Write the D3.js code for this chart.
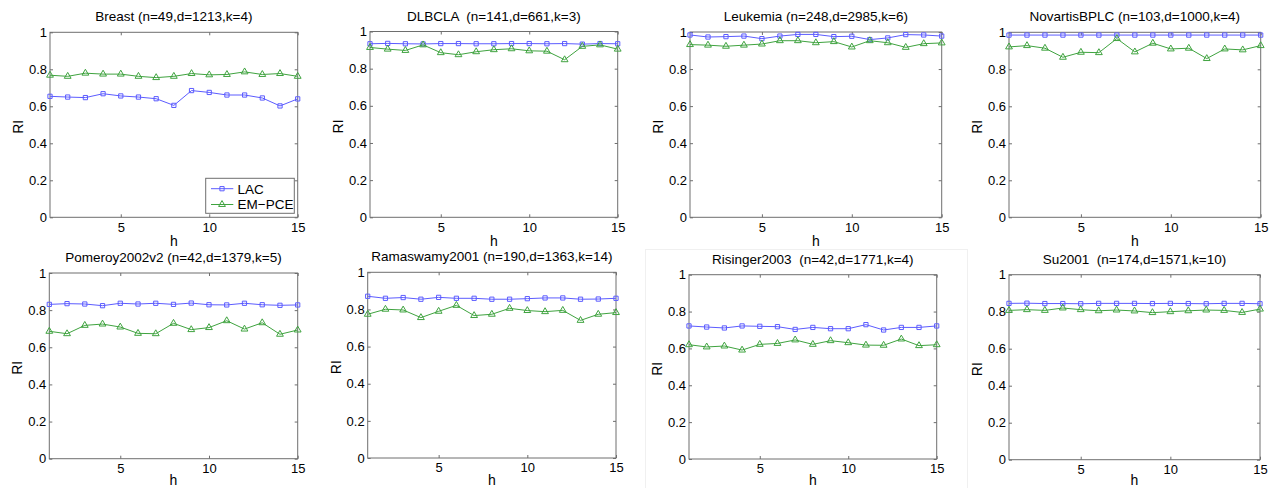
<!DOCTYPE html>
<html>
<head>
<meta charset="utf-8">
<script src="https://cdn.jsdelivr.net/npm/d3@7"></script>
<style>
  html, body { margin: 0; padding: 0; background: #fff; }
  svg { display: block; }
  text { font-family: "Liberation Sans", Arial, Helvetica, sans-serif; fill: #000; }
</style>
</head>
<body>
<svg id="chart" width="1279" height="488"></svg>
<script>
// Rand index (RI) of LAC and EM-PCE over h = 1..15 for eight gene-expression datasets
const hValues = [1, 2, 3, 4, 5, 6, 7, 8, 9, 10, 11, 12, 13, 14, 15];
const xTicks = [5, 10, 15];
const yTicks = [0, 0.2, 0.4, 0.6, 0.8, 1];
const seriesNames = ["LAC", "EM\u2212PCE"];

const titles = [
  "Breast (n=49,d=1213,k=4)",
  "DLBCLA  (n=141,d=661,k=3)",
  "Leukemia (n=248,d=2985,k=6)",
  "NovartisBPLC (n=103,d=1000,k=4)",
  "Pomeroy2002v2 (n=42,d=1379,k=5)",
  "Ramaswamy2001 (n=190,d=1363,k=14)",
  "Risinger2003  (n=42,d=1771,k=4)",
  "Su2001  (n=174,d=1571,k=10)"
];

const lacValues = [
  [0.654, 0.650, 0.647, 0.668, 0.656, 0.650, 0.641, 0.605, 0.685, 0.675, 0.661, 0.661, 0.645, 0.602, 0.640],
  [0.934, 0.936, 0.934, 0.933, 0.935, 0.935, 0.934, 0.934, 0.935, 0.935, 0.934, 0.935, 0.932, 0.935, 0.934],
  [0.984, 0.973, 0.975, 0.978, 0.964, 0.978, 0.987, 0.987, 0.975, 0.977, 0.959, 0.968, 0.986, 0.984, 0.978],
  [0.985, 0.985, 0.985, 0.985, 0.985, 0.985, 0.985, 0.985, 0.985, 0.985, 0.985, 0.985, 0.985, 0.985, 0.985],
  [0.831, 0.835, 0.833, 0.824, 0.837, 0.833, 0.837, 0.831, 0.838, 0.829, 0.828, 0.837, 0.829, 0.826, 0.828],
  [0.871, 0.860, 0.864, 0.855, 0.865, 0.860, 0.860, 0.855, 0.855, 0.858, 0.862, 0.862, 0.855, 0.856, 0.860],
  [0.722, 0.716, 0.711, 0.722, 0.720, 0.718, 0.703, 0.714, 0.707, 0.707, 0.729, 0.700, 0.714, 0.714, 0.722],
  [0.845, 0.846, 0.844, 0.844, 0.843, 0.845, 0.845, 0.845, 0.844, 0.845, 0.844, 0.843, 0.845, 0.845, 0.843]
];

const empceValues = [
  [0.768, 0.762, 0.779, 0.774, 0.774, 0.762, 0.755, 0.762, 0.777, 0.770, 0.772, 0.786, 0.772, 0.777, 0.762],
  [0.914, 0.905, 0.898, 0.928, 0.886, 0.875, 0.891, 0.902, 0.907, 0.896, 0.894, 0.848, 0.920, 0.928, 0.905],
  [0.932, 0.929, 0.923, 0.929, 0.935, 0.953, 0.953, 0.942, 0.948, 0.919, 0.953, 0.942, 0.917, 0.937, 0.941],
  [0.921, 0.928, 0.914, 0.865, 0.892, 0.890, 0.966, 0.894, 0.941, 0.910, 0.914, 0.858, 0.910, 0.905, 0.928],
  [0.686, 0.673, 0.718, 0.725, 0.709, 0.675, 0.673, 0.729, 0.695, 0.706, 0.743, 0.698, 0.732, 0.670, 0.693],
  [0.774, 0.801, 0.797, 0.756, 0.790, 0.822, 0.767, 0.774, 0.806, 0.794, 0.788, 0.795, 0.741, 0.774, 0.783],
  [0.620, 0.608, 0.613, 0.591, 0.622, 0.627, 0.646, 0.622, 0.642, 0.631, 0.618, 0.617, 0.651, 0.615, 0.620],
  [0.807, 0.811, 0.807, 0.820, 0.811, 0.805, 0.809, 0.804, 0.795, 0.800, 0.805, 0.809, 0.807, 0.796, 0.814]
];

// Axes boxes for each subplot: left, right, top, bottom (pixels)
const boxes = [
  [50, 297.7, 32.3, 217.3],
  [370, 617.7, 31.5, 217.3],
  [690, 941.7, 32, 217.3],
  [1009, 1260.7, 32.3, 217.3],
  [49.3, 297.7, 273, 458.7],
  [367.7, 616, 272.3, 458],
  [689, 936.7, 274.7, 459],
  [1009, 1260, 274.7, 459.7]
];

const colors = { lac: "#5c5cff", empce: "#3fa33f" };
const axisColor = "#6e6e6e";
const tickLen = 3;

const svg = d3.select("#chart");

// faint frame around the Risinger2003 subplot
svg.append("rect")
  .attr("x", 645.5).attr("y", 249.5)
  .attr("width", 322).attr("height", 250)
  .attr("fill", "none").attr("stroke", "#f0f0f0").attr("stroke-width", 1);

const sqr = d3.symbol().type(d3.symbolSquare).size(18);
const tri = d3.symbol().type(d3.symbolTriangle).size(20);

titles.forEach((title, i) => {
  const [x0, x1, y0, y1] = boxes[i];
  const x = d3.scaleLinear().domain([1, 15]).range([x0, x1]);
  const y = d3.scaleLinear().domain([0, 1]).range([y1, y0]);
  const g = svg.append("g");

  // box
  g.append("rect")
    .attr("x", x0).attr("y", y0)
    .attr("width", x1 - x0).attr("height", y1 - y0)
    .attr("fill", "#fff").attr("stroke", axisColor).attr("stroke-width", 1);

  // inward ticks on all four sides
  const fmt = d => (d === 0 || d === 1) ? String(d) : d.toFixed(1);
  const styleAxis = sel => {
    sel.select(".domain").remove();
    sel.selectAll(".tick line").attr("stroke", axisColor);
    sel.selectAll(".tick text")
      .style("font-family", '"Liberation Sans", Arial, sans-serif')
      .style("font-size", "13px").attr("fill", "#000");
  };
  g.append("g").attr("transform", `translate(${x0},0)`)
    .call(d3.axisLeft(y).tickValues(yTicks).tickFormat(fmt).tickSize(-tickLen).tickPadding(3))
    .call(styleAxis);
  g.append("g").attr("transform", `translate(${x1},0)`)
    .call(d3.axisRight(y).tickValues(yTicks).tickFormat("").tickSize(-tickLen))
    .call(styleAxis);
  g.append("g").attr("transform", `translate(0,${y1})`)
    .call(d3.axisBottom(x).tickValues(xTicks).tickFormat(d3.format("d")).tickSize(-tickLen).tickPadding(5))
    .call(styleAxis);
  g.append("g").attr("transform", `translate(0,${y0})`)
    .call(d3.axisTop(x).tickValues(xTicks).tickFormat("").tickSize(-tickLen))
    .call(styleAxis);

  // title and axis labels
  g.append("text")
    .attr("x", (x0 + x1) / 2).attr("y", y0 - 11)
    .attr("text-anchor", "middle")
    .style("font-size", "13.5px").style("white-space", "pre")
    .text(title);
  g.append("text")
    .attr("x", (x0 + x1) / 2).attr("y", Math.min(y1 + 28.5, 485))
    .attr("text-anchor", "middle")
    .style("font-size", "14px")
    .text("h");
  g.append("text")
    .attr("transform", `translate(${x0 - 27},${(y0 + y1) / 2 + 2}) rotate(-90)`)
    .attr("text-anchor", "middle")
    .style("font-size", "14px")
    .text("RI");

  // series
  const series = [
    { vals: lacValues[i], color: colors.lac, sym: sqr },
    { vals: empceValues[i], color: colors.empce, sym: tri }
  ];
  series.forEach(s => {
    const pts = hValues.map((h, k) => [h, s.vals[k]]);
    g.append("path")
      .datum(pts)
      .attr("fill", "none").attr("stroke", s.color).attr("stroke-width", 1)
      .attr("d", d3.line().x(d => x(d[0])).y(d => y(d[1])));
    g.selectAll(null).data(pts).enter().append("path")
      .attr("transform", d => `translate(${x(d[0])},${y(d[1])})`)
      .attr("d", s.sym())
      .attr("fill", "none").attr("stroke", s.color).attr("stroke-width", 1);
  });

  // legend in the first subplot
  if (i === 0) {
    const lg = g.append("g");
    lg.append("rect")
      .attr("x", 205.7).attr("y", 178.3).attr("width", 88.6).attr("height", 35)
      .attr("fill", "#fff").attr("stroke", axisColor).attr("stroke-width", 1);
    const entries = [
      { name: seriesNames[0], color: colors.lac, sym: sqr, cy: 188.7 },
      { name: seriesNames[1], color: colors.empce, sym: tri, cy: 204.5 }
    ];
    entries.forEach(e => {
      lg.append("line")
        .attr("x1", 211).attr("x2", 233.3).attr("y1", e.cy).attr("y2", e.cy)
        .attr("stroke", e.color).attr("stroke-width", 1);
      lg.append("path")
        .attr("transform", `translate(222,${e.cy})`)
        .attr("d", e.sym())
        .attr("fill", "none").attr("stroke", e.color).attr("stroke-width", 1);
      lg.append("text")
        .attr("x", 237.5).attr("y", e.cy + 4.8)
        .style("font-size", "13.5px")
        .text(e.name);
    });
  }
});
</script>
</body>
</html>
